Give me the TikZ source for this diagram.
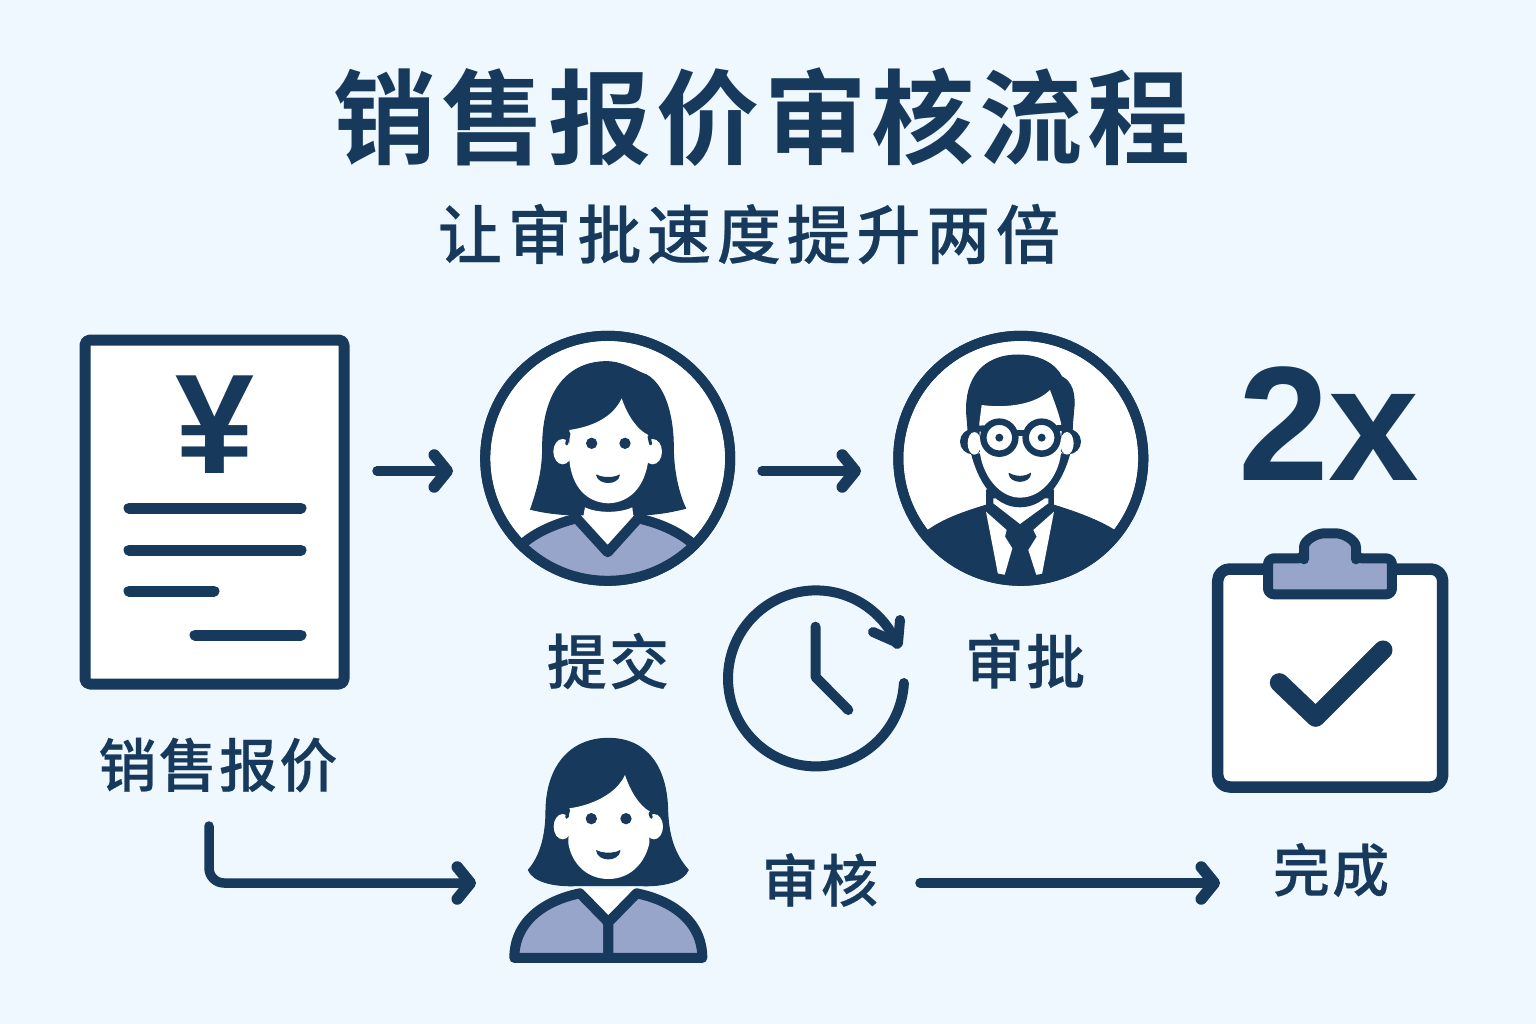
\documentclass[tikz,border=0pt]{standalone}
\usepackage{fontspec}
\usetikzlibrary{arrows.meta}
\newfontfamily\cjkhead[LetterSpace=4.5]{Noto Sans CJK SC Bold}
\newfontfamily\cjksub[LetterSpace=9, FakeBold=0.35]{Noto Sans CJK SC Medium}
\newfontfamily\cjklabel[LetterSpace=4, FakeBold=0.35]{Noto Sans CJK SC Medium}
\newfontfamily\latinfont{Liberation Sans}
\definecolor{navy}{HTML}{16395C}
\definecolor{lav}{HTML}{98A5CB}
\definecolor{paper}{HTML}{EFF8FE}
\begin{document}
\begin{tikzpicture}[x=1pt, y=-1pt, line cap=round, line join=round,
		main/.style = {draw=navy, fill=white, inner sep=0pt},
		txt/.style = {text=navy, inner sep=0pt},
		line/.style = {draw=navy, line width=10pt},
		bar/.style = {draw=navy, line width=11pt},
		solid/.style = {draw=navy, fill=navy, line width=1pt},
		pale/.style = {draw=none, fill=white},
		cloth/.style = {draw=navy, fill=lav, line width=10pt},
		notch/.style = {draw=navy, line width=3pt},
		flow/.style = {draw=navy, line width=9.5pt, -{Straight Barb[length=13pt, width=32pt, line width=11.5pt, round]}},
		zoomed/.style = {x=0.3333pt, y=-0.3333pt}]
	\useasboundingbox (0,0) rectangle (1536,1024);
	\fill[paper] (0,0) rectangle (1536,1024);

	\node[txt, font=\cjkhead\fontsize{103}{103}\selectfont] (title) at (762,117) {销售报价审核流程};
	\node[txt, font=\cjksub\fontsize{64}{64}\selectfont] (subtitle) at (749,234) {让审批速度提升两倍};

	\node[main, line width=11pt, rounded corners=5pt, minimum width=259pt, minimum height=344pt] (doc) at (214.5,512) {};
	\node[txt, font=\latinfont\bfseries\fontsize{142}{142}\selectfont] (yen) at (214.5,425) {¥};
	\draw[bar] (129,508) -- (301,508);
	\draw[bar] (129,550) -- (301,550);
	\draw[bar] (129,591) -- (214,591);
	\draw[bar] (195,635) -- (301,635);

	\node[main, circle, line width=10pt, minimum size=245pt] (sub) at (607.7,458.3) {};
	\begin{scope}[shift={(470,320)}, zoomed]
		\draw[solid] (182,568) .. controls (205,500) and (218,450) .. (218,380) .. controls (218,220) and (290,125) .. (410,125) .. controls (460,125) and (500,155) .. (530,165) .. controls (590,200) and (610,300) .. (610,380) .. controls (610,450) and (625,520) .. (647,565) .. controls (590,580) and (540,585) .. (500,585) -- (330,585) .. controls (280,585) and (230,580) .. (182,568) -- cycle;
		\fill[pale] (345,562) .. controls (380,580) and (450,580) .. (487,562) -- (490,590) -- (413,680) -- (340,590) -- cycle;
		\begin{scope}
			\clip (413,415) circle (365);
			\draw[cloth] (160,670) .. controls (200,635) and (260,610) .. (320,595) -- (413,697) -- (505,595) .. controls (570,610) and (625,635) .. (667,670) -- (667,860) -- (160,860) -- cycle;
		\end{scope}
		\fill[pale] (278,395) ellipse (28 and 38);
		\fill[pale] (548,395) ellipse (28 and 38);
		\fill[pale] (298,330) .. controls (370,320) and (430,290) .. (455,235) .. controls (470,280) and (500,330) .. (535,345) -- (535,420) .. controls (525,500) and (480,548) .. (415,550) .. controls (350,548) and (305,500) .. (298,420) -- cycle;
		\draw[notch] (297,340) -- (290,372);
		\draw[notch] (537,350) -- (542,372);
		\fill[navy] (365,370) circle (17);
		\fill[navy] (465,370) circle (17);
		\draw[solid] (380,465) .. controls (395,475) and (435,475) .. (448,465) .. controls (445,495) and (385,495) .. (380,465) -- cycle;
	\end{scope}
	\draw[line] (sub.center) circle (122.5pt);

	\node[main, circle, line width=10pt, minimum size=245pt] (app) at (1020.8,458.3) {};
	\begin{scope}[shift={(885,320)}, zoomed]
		\begin{scope}
			\clip (407,415) circle (365);
			\draw[solid] (130,630) .. controls (180,595) and (240,575) .. (305,555) -- (305,510) -- (505,510) -- (505,555) .. controls (570,575) and (640,600) .. (690,632) -- (690,830) -- (130,830) -- cycle;
		\end{scope}
		\fill[pale] (303,575) -- (365,630) -- (360,650) -- (382,685) -- (358,768) -- (340,768) -- cycle;
		\fill[pale] (507,575) -- (445,630) -- (455,650) -- (430,690) -- (455,768) -- (470,768) -- cycle;
		\fill[pale] (325,535) -- (325,550) -- (405,612) -- (490,550) -- (490,535) -- cycle;
		\draw[solid] (245,280) .. controls (240,180) and (290,105) .. (400,105) .. controls (460,105) and (510,130) .. (530,170) .. controls (560,185) and (570,220) .. (567,260) -- (560,340) -- (250,340) -- cycle;
		\fill[navy] (263,365) circle (38);
		\fill[navy] (550,365) circle (38);
		\fill[navy] (258,400) .. controls (275,470) and (320,562) .. (405,562) .. controls (490,562) and (538,470) .. (556,400) -- cycle;
		\fill[pale] (268,370) ellipse (20 and 34);
		\fill[pale] (546,370) ellipse (20 and 34);
		\fill[pale] (283,310) -- (290,255) .. controls (360,265) and (450,255) .. (495,210) .. controls (510,250) and (525,290) .. (530,320) -- (528,400) .. controls (520,470) and (470,533) .. (405,533) .. controls (345,533) and (295,470) .. (285,400) -- cycle;
		\draw[main, line width=6.5pt] (343,353) circle (48);
		\draw[main, line width=6.5pt] (470,353) circle (48);
		\draw[navy, line width=6pt] (391,340) -- (422,340);
		\draw[navy, line width=6pt] (296,325) -- (262,328);
		\draw[navy, line width=6pt] (518,325) -- (555,325);
		\fill[navy] (343,353) circle (12);
		\fill[navy] (470,353) circle (12);
		\draw[solid] (372,460) .. controls (390,472) and (420,472) .. (437,460) .. controls (435,492) and (375,492) .. (372,460) -- cycle;
	\end{scope}
	\draw[line] (app.center) circle (122.5pt);

	\node[txt, font=\latinfont\bfseries\fontsize{163}{163}\selectfont] (twox) at (1329,424) {2x};

	\node[main, line width=11.5pt, rounded corners=12pt, minimum width=225pt, minimum height=218pt] (board) at (1330.2,678) {};
	\begin{scope}[shift={(1200,520)}, zoomed]
		\draw[cloth, rounded corners=6pt] (204,223) -- (204,115) -- (312,115) -- (312,100) .. controls (312,60) and (350,40) .. (390,40) .. controls (430,40) and (468,60) .. (468,100) -- (468,115) -- (576,115) -- (576,223) -- cycle;
		\draw[navy, line width=19pt] (238,488) -- (347,592) -- (549,390);
	\end{scope}

	\draw[line] (903.9,683) arc[start angle=3, end angle=337, radius=88];
	\draw[line] (873,632) -- (898,643) -- (900,620);
	\draw[line] (815.5,626.7) -- (815.5,677) -- (848.3,710);

	\begin{scope}[shift={(490,730)}, zoomed]
		\draw[solid] (355,25) .. controls (240,25) and (170,110) .. (168,240) .. controls (168,320) and (150,380) .. (115,420) .. controls (130,455) and (190,470) .. (260,467) -- (450,467) .. controls (520,470) and (580,455) .. (595,420) .. controls (550,370) and (535,310) .. (533,240) .. controls (530,110) and (470,25) .. (355,25) -- cycle;
		\fill[pale] (280,470) .. controls (320,482) and (390,482) .. (430,470) -- (430,490) -- (355,570) -- (280,490) -- cycle;
		\draw[cloth] (73,684) -- (355,684) -- (355,577) -- (270,490) .. controls (170,510) and (73,570) .. (73,684) -- cycle;
		\draw[cloth] (637,684) -- (355,684) -- (355,577) -- (440,490) .. controls (540,510) and (637,570) .. (637,684) -- cycle;
		\fill[pale] (218,290) ellipse (27 and 38);
		\fill[pale] (492,290) ellipse (27 and 38);
		\fill[pale] (238,235) .. controls (310,225) and (380,190) .. (405,135) .. controls (420,180) and (445,225) .. (480,245) -- (478,340) .. controls (465,400) and (420,447) .. (355,447) .. controls (290,447) and (245,400) .. (235,340) -- cycle;
		\draw[notch] (236,240) -- (230,262);
		\draw[notch] (480,250) -- (484,262);
		\fill[navy] (304,266) circle (17);
		\fill[navy] (408,266) circle (17);
		\draw[solid] (320,362) .. controls (335,372) and (375,372) .. (390,362) .. controls (385,395) and (325,395) .. (320,362) -- cycle;
	\end{scope}

	\node[txt, font=\cjklabel\fontsize{58}{58}\selectfont] (doclbl) at (218,765) {销售报价};
	\node[txt, font=\cjklabel\fontsize{60}{60}\selectfont] (sublbl) at (608,661) {提交};
	\node[txt, font=\cjklabel\fontsize{59}{59}\selectfont] (applbl) at (1025,661) {审批};
	\node[txt, font=\cjklabel\fontsize{57}{57}\selectfont] (revlbl) at (820,880) {审核};
	\node[txt, font=\cjklabel\fontsize{57}{57}\selectfont] (donelbl) at (1331,870) {完成};

	\coordinate (a1) at (377,471);
	\coordinate (b1) at (453,471);
	\coordinate (a2) at (762,471);
	\coordinate (b2) at (861,471);
	\coordinate (a3) at (209,826);
	\coordinate (c3) at (209,883);
	\coordinate (b3) at (476,883);
	\coordinate (a4) at (920,883);
	\coordinate (b4) at (1220,883);
	\draw[flow] (a1) -- (b1);
	\draw[flow] (a2) -- (b2);
	\draw[flow, rounded corners=15pt] (a3) -- (c3) -- (b3);
	\draw[flow] (a4) -- (b4);
\end{tikzpicture}
\end{document}
